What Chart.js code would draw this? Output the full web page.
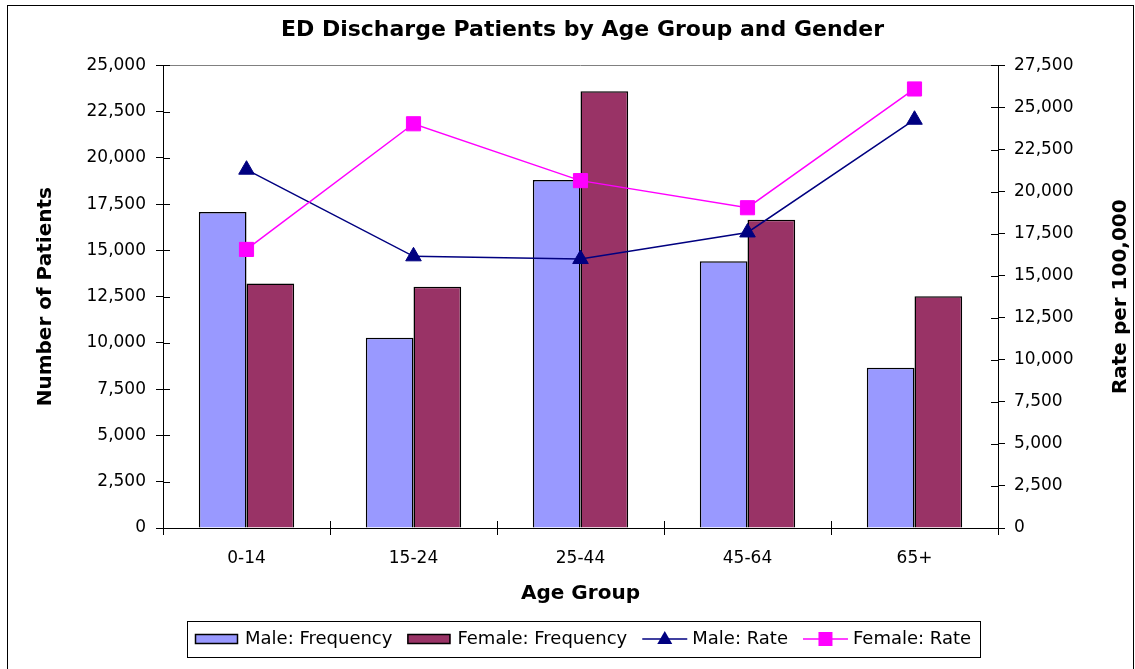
<!DOCTYPE html>
<html>
<head>
<meta charset="utf-8">
<script src="https://cdn.jsdelivr.net/npm/chart.js@4.4.0/dist/chart.umd.min.js"></script>
<style>
  html, body { margin: 0; padding: 0; background: #fff; }
</style>
</head>
<body>
<canvas id="edChart" width="1135" height="669"></canvas>
<script>
// Data
const ageGroups = ["0-14", "15-24", "25-44", "45-64", "65+"];
const maleFrequency = [17080, 10280, 18810, 14410, 8660];
const femaleFrequency = [13220, 13040, 23600, 16660, 12520];
const maleRate = [21300, 16150, 15990, 17570, 24270];
const femaleRate = [16560, 24030, 20650, 19040, 26100];

const seriesNames = ["Male: Frequency", "Female: Frequency", "Male: Rate", "Female: Rate"];
const rightAxisTitle = "Rate per 100,000";

Chart.defaults.font.family = '"DejaVu Sans", sans-serif';
Chart.defaults.color = "#000";

const fmt = v => Number(v).toLocaleString("en-US");

// Frame, plot-area top border, crossing tick halves, right title and the boxed legend
const decorPlugin = {
  id: "decor",
  afterDraw(chart) {
    const ctx = chart.ctx;
    const area = chart.chartArea;
    ctx.save();

    // outer frame
    ctx.strokeStyle = "#000";
    ctx.lineWidth = 1;
    ctx.strokeRect(7.5, 5.5, 1126, 670);

    // top border of plot area
    ctx.strokeStyle = "#808080";
    ctx.beginPath();
    ctx.moveTo(area.left, Math.round(area.top) + 0.5);
    ctx.lineTo(area.right, Math.round(area.top) + 0.5);
    ctx.stroke();

    // inner halves of the tick marks (Excel "cross" ticks)
    ctx.strokeStyle = "#000";
    ctx.beginPath();
    const yL = chart.scales.y, yR = chart.scales.y1;
    yL.ticks.forEach(t => {
      const py = Math.round(yL.getPixelForValue(t.value)) + 0.5;
      ctx.moveTo(area.left, py); ctx.lineTo(area.left + 7, py);
    });
    yR.ticks.forEach(t => {
      const py = Math.round(yR.getPixelForValue(t.value)) + 0.5;
      ctx.moveTo(area.right, py); ctx.lineTo(area.right - 7, py);
    });
    const n = ageGroups.length;
    for (let i = 0; i <= n; i++) {
      const px = Math.round(area.left + i * (area.right - area.left) / n) + 0.5;
      ctx.moveTo(px, area.bottom); ctx.lineTo(px, area.bottom - 7);
    }
    ctx.stroke();

    // right axis title, reading bottom to top
    ctx.save();
    ctx.font = 'bold 20px "DejaVu Sans", sans-serif';
    ctx.fillStyle = "#000";
    ctx.textAlign = "center";
    ctx.textBaseline = "middle";
    ctx.translate(1121, (area.top + area.bottom) / 2);
    ctx.rotate(-Math.PI / 2);
    ctx.fillText(rightAxisTitle, 0, 0);
    ctx.restore();

    // legend
    ctx.font = '18px "DejaVu Sans", sans-serif';
    ctx.textBaseline = "middle";
    ctx.textAlign = "left";
    const ds = chart.data.datasets;
    const swW = 43, lineW = 45;
    const items = ds.map(d => {
      const isBar = d.type === "bar";
      const tw = ctx.measureText(d.label).width;
      return { d, isBar, tw, w: (isBar ? swW + 7 : lineW + 5) + tw };
    });
    const gap = 15;
    const contentW = items.reduce((s, it) => s + it.w, 0) + gap * (items.length - 1);
    const boxW = Math.round(contentW + 17);
    const boxL = Math.round(583 - boxW / 2);
    const boxT = 621, boxH = 36;
    const cy = boxT + boxH / 2;
    ctx.fillStyle = "#fff";
    ctx.fillRect(boxL, boxT, boxW, boxH);
    ctx.strokeStyle = "#000";
    ctx.strokeRect(boxL + 0.5, boxT + 0.5, boxW, boxH);

    let x = boxL + 8;
    items.forEach(it => {
      const d = it.d;
      if (it.isBar) {
        ctx.fillStyle = d.backgroundColor;
        ctx.fillRect(x, cy - 5, swW, 10);
        ctx.strokeStyle = "#000";
        ctx.lineWidth = 1.5;
        ctx.strokeRect(x + 0.5, cy - 4.5, swW - 1, 9);
        ctx.lineWidth = 1;
        x += swW + 7;
      } else {
        ctx.strokeStyle = d.borderColor;
        ctx.lineWidth = 1.5;
        ctx.beginPath();
        ctx.moveTo(x, cy); ctx.lineTo(x + lineW, cy);
        ctx.stroke();
        ctx.lineWidth = 1;
        const mx = x + lineW / 2;
        ctx.fillStyle = d.pointBackgroundColor;
        ctx.beginPath();
        if (d.pointStyle === "triangle") {
          ctx.moveTo(mx, cy - 8);
          ctx.lineTo(mx + 7.5, cy + 5);
          ctx.lineTo(mx - 7.5, cy + 5);
          ctx.closePath();
        } else {
          ctx.rect(mx - 7, cy - 7, 14, 14);
        }
        ctx.fill();
        x += lineW + 5;
      }
      ctx.fillStyle = "#000";
      ctx.fillText(d.label, x, cy);
      x += it.tw + gap;
    });
    ctx.restore();
  }
};

new Chart(document.getElementById("edChart"), {
  data: {
    labels: ageGroups,
    datasets: [
      {
        type: "bar",
        label: seriesNames[0],
        data: maleFrequency,
        backgroundColor: "#9999FF",
        borderColor: "#000",
        borderWidth: 1.5,
        categoryPercentage: 0.571,
        barPercentage: 1,
        yAxisID: "y",
        order: 2
      },
      {
        type: "bar",
        label: seriesNames[1],
        data: femaleFrequency,
        backgroundColor: "#993366",
        borderColor: "#000",
        borderWidth: 1.5,
        categoryPercentage: 0.571,
        barPercentage: 1,
        yAxisID: "y",
        order: 2
      },
      {
        type: "line",
        label: seriesNames[2],
        data: maleRate,
        borderColor: "#000080",
        borderWidth: 1.5,
        pointStyle: "triangle",
        pointRadius: 9,
        pointBackgroundColor: "#000080",
        pointBorderColor: "#000080",
        pointBorderWidth: 1,
        tension: 0,
        yAxisID: "y1",
        order: 1
      },
      {
        type: "line",
        label: seriesNames[3],
        data: femaleRate,
        borderColor: "#FF00FF",
        borderWidth: 1.5,
        pointStyle: "rect",
        pointRadius: 10,
        pointBackgroundColor: "#FF00FF",
        pointBorderColor: "#FF00FF",
        pointBorderWidth: 1,
        tension: 0,
        yAxisID: "y1",
        order: 0
      }
    ]
  },
  options: {
    responsive: false,
    animation: false,
    devicePixelRatio: 1,
    layout: { padding: { left: 30, right: 0, top: 8, bottom: 59 } },
    plugins: {
      legend: { display: false },
      tooltip: { enabled: false },
      title: {
        display: true,
        text: "ED Discharge Patients by Age Group and Gender",
        color: "#000",
        font: { size: 22, weight: "bold" },
        padding: { top: 9, bottom: 22 }
      }
    },
    scales: {
      x: {
        type: "category",
        position: "bottom",
        offset: true,
        grid: { offset: true, drawOnChartArea: false, color: "#000", tickLength: 7 },
        border: { color: "#000", width: 1 },
        ticks: { color: "#000", font: { size: 17 }, padding: 13, maxRotation: 0 },
        title: {
          display: true,
          text: "Age Group",
          color: "#000",
          font: { size: 20, weight: "bold" },
          padding: { top: 4, bottom: 4 }
        },
        afterFit(s) { s.height = 82; }
      },
      y: {
        type: "linear",
        position: "left",
        min: 0,
        max: 25000,
        grid: { drawOnChartArea: false, color: "#000", tickLength: 7 },
        border: { color: "#000", width: 1 },
        ticks: { stepSize: 2500, color: "#000", font: { size: 17 }, padding: 10, callback: fmt },
        title: {
          display: true,
          text: "Number of Patients",
          color: "#000",
          font: { size: 20, weight: "bold" },
          padding: { top: 4, bottom: 4 }
        },
        afterFit(s) { s.width = 133; }
      },
      y1: {
        type: "linear",
        position: "right",
        min: 0,
        max: 27500,
        grid: { drawOnChartArea: false, color: "#000", tickLength: 7 },
        border: { color: "#000", width: 1 },
        ticks: { stepSize: 2500, color: "#000", font: { size: 17 }, padding: 9, callback: fmt },
        title: { display: false },
        afterFit(s) { s.width = 137; }
      }
    }
  },
  plugins: [decorPlugin]
});
</script>
</body>
</html>
